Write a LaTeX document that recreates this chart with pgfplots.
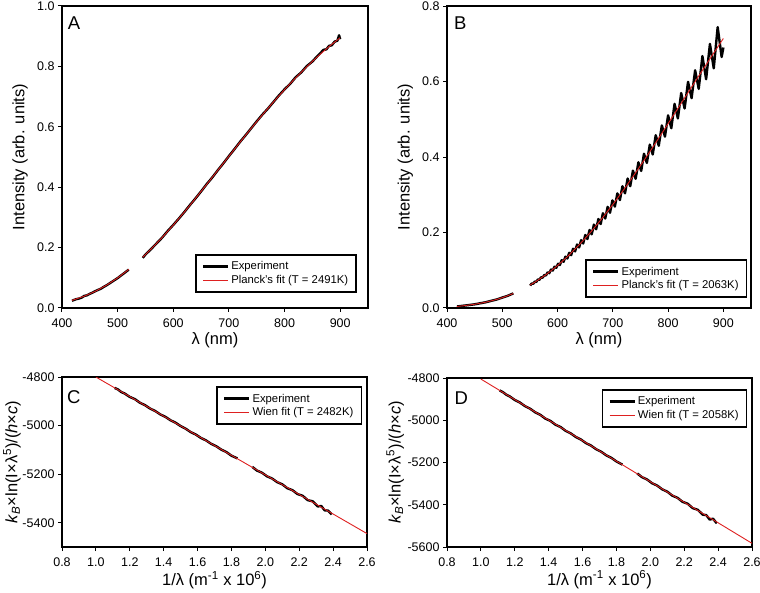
\documentclass[border=0pt]{standalone}
\usepackage{fontspec}
\setmainfont{Liberation Sans}
\usepackage{pgfplots}
\pgfplotsset{compat=1.18}
\definecolor{fitred}{RGB}{222,32,32}
\newcommand{\tickfont}{\fontsize{12.5}{14}\selectfont}
\newcommand{\labfont}{\fontsize{16.5}{19}\selectfont}
\newcommand{\legfont}{\fontsize{11.3}{13}\selectfont}
\newcommand{\letfont}{\fontsize{18.5}{21}\selectfont}
\pgfplotsset{
  panel/.style={
    scale only axis,
    anchor=south west,
    axis line style={line width=1.1pt},
    tick align=outside,
    xtick pos=bottom, ytick pos=left,
    major tick length=4pt,
    every tick/.style={black, line width=1pt},
    tick label style={font=\tickfont},
    xticklabel shift=3pt,
    /pgf/number format/assume math mode=true,
    label style={font=\labfont},
    unbounded coords=jump,
    legend style={font=\legfont, draw=black, line width=1.6pt, inner xsep=6pt, inner ysep=5pt, row sep=0pt, cells={anchor=west}},
    legend image code/.code={\draw[##1] (0pt,0pt) -- (25pt,0pt);},
  },
  expt/.style={black, line width=2.4pt, line join=round},
  fitl/.style={fitred, line width=0.9pt},
  onedec/.style={/pgf/number format/.cd, fixed, fixed zerofill, precision=1},
}
\begin{document}
\begin{tikzpicture}
\useasboundingbox (0,0) rectangle (760pt,592pt);
% ---------------- A ----------------
\begin{axis}[panel, at={(62pt,284pt)}, width=306pt, height=302pt,
  xmin=400, xmax=950, ymin=0, ymax=1.0,
  xtick={400,500,600,700,800,900}, ytick={0,0.2,0.4,0.6,0.8,1.0},
  yticklabel style={onedec},
  xlabel={λ (nm)}, ylabel={Intensity (arb. units)},
  xlabel style={at={(axis description cs:0.5,-0.106)}, anchor=center},
  ylabel style={at={(axis description cs:-0.137,0.5)}, anchor=center},
  legend style={at={(axis description cs:0.964,0.050)}, anchor=south east}]
\addplot[expt] coordinates {
(418,0.024) (425,0.029) (430,0.031) (435,0.034) (440,0.040) (445,0.042) (450,0.047) (455,0.051) (460,0.056) (465,0.060) (470,0.064) (475,0.070) (480,0.075) (485,0.081) (490,0.087) (495,0.093) (500,0.099) (505,0.106) (510,0.113) (515,0.120) (520,0.127)
(530,nan)
(545,0.166) (550,0.177) (555,0.186) (560,0.195) (570,0.214) (580,0.233) (590,0.255) (600,0.275) (610,0.296) (620,0.318) (630,0.341) (640,0.363) (650,0.386) (660,0.410) (670,0.432) (680,0.456) (690,0.479) (700,0.503) (710,0.526) (720,0.550) (730,0.572) (740,0.595) (750,0.618) (760,0.640) (770,0.660) (780,0.682) (790,0.704) (800,0.724) (810,0.742) (820,0.764) (830,0.780) (840,0.801) (850,0.816) (860,0.836) (865,0.845) (870,0.855) (875,0.856) (880,0.868) (885,0.870) (890,0.882) (895,0.885) (898,0.903) (900,0.890)
};
\addlegendentry{Experiment}
\addplot[fitl] coordinates {
(418,0.0253) (420,0.0264) (440,0.0391) (460,0.0553) (480,0.0755) (500,0.0997) (520,0.1278)
(530,nan)
(545,0.1682) (560,0.1950) (580,0.2334) (600,0.2746) (620,0.3180) (640,0.3630) (660,0.4092) (680,0.4558) (700,0.5026) (720,0.5491) (740,0.5948) (760,0.6392) (780,0.6821) (800,0.7232) (820,0.7623) (840,0.7991) (860,0.8337) (880,0.8657) (900,0.8950)
};
\addlegendentry{Planck's fit (T = 2491K)}
\node[font=\letfont] at (axis description cs:0.039,0.944) {A};
\end{axis}
% ---------------- B ----------------
\begin{axis}[panel, at={(447pt,284pt)}, width=304pt, height=302pt,
  xmin=400, xmax=950, ymin=0, ymax=0.8,
  xtick={400,500,600,700,800,900}, ytick={0,0.2,0.4,0.6,0.8},
  yticklabel style={onedec},
  xlabel={λ (nm)}, ylabel={Intensity (arb. units)},
  xlabel style={at={(axis description cs:0.5,-0.106)}, anchor=center},
  ylabel style={at={(axis description cs:-0.137,0.5)}, anchor=center},
  legend style={at={(axis description cs:0.988,0.033)}, anchor=south east}]
\addplot[expt] coordinates {
(418,0.0040) (425,0.0052) (430,0.0061) (440,0.0079) (450,0.0097) (460,0.0125) (470,0.0152) (480,0.0190) (490,0.0226) (500,0.0276) (510,0.0324) (520,0.0387)
(535,nan)
(550.5,0.0594) (553.2,0.0649) (555.9,0.0641) (558.7,0.0699) (561.5,0.0690) (564.3,0.0754) (567.2,0.0746) (570.1,0.0814) (573.1,0.0803) (576.0,0.0874) (579.1,0.0862) (582.1,0.0945) (585.1,0.0923) (588.2,0.1018) (591.4,0.0994) (594.6,0.1094) (597.7,0.1065) (601.0,0.1172) (604.2,0.1140) (607.5,0.1267) (610.9,0.1225) (614.3,0.1360) (617.7,0.1312) (621.1,0.1462) (624.6,0.1400) (628.1,0.1570) (631.7,0.1500) (635.3,0.1681) (639.0,0.1604) (642.7,0.1799) (646.4,0.1709) (650.2,0.1935) (654.0,0.1828) (657.9,0.2066) (661.8,0.1951) (665.8,0.2208) (669.8,0.2086) (673.9,0.2358) (678.0,0.2224) (682.1,0.2511) (686.3,0.2370) (690.6,0.2678) (694.9,0.2525) (699.3,0.2850) (703.7,0.2687) (708.2,0.3035) (712.8,0.2860) (717.4,0.3226) (722.0,0.3038) (726.8,0.3429) (731.5,0.3227) (736.4,0.3639) (741.3,0.3424) (746.3,0.3859) (751.3,0.3630) (756.4,0.4086) (761.6,0.3843) (766.9,0.4327) (772.2,0.4067) (777.6,0.4576) (783.1,0.4299) (788.7,0.4836) (794.3,0.4540) (800.0,0.5103) (805.8,0.4764) (811.7,0.5407) (817.7,0.5022) (823.7,0.5694) (829.9,0.5286) (836.1,0.5991) (842.5,0.5559) (848.9,0.6297) (855.4,0.5806) (862.1,0.6673) (868.8,0.6059) (875.7,0.6996) (882.6,0.6350) (889.7,0.7440) (896.9,0.6650) (900,0.6900)
};
\addlegendentry{Experiment}
\addplot[fitl] coordinates {
(418,0.0041) (430,0.0060) (450,0.0099) (470,0.0153) (490,0.0228) (500,0.0274) (510,0.0326) (520,0.0385)
(535,nan)
(550,0.0605) (560,0.0693) (580,0.0893) (600,0.1125) (620,0.1390) (640,0.1686) (660,0.2011) (680,0.2364) (700,0.2740) (720,0.3139) (740,0.3557) (760,0.3988) (780,0.4432) (800,0.4883) (820,0.5338) (840,0.5795) (860,0.6248) (880,0.6697) (900,0.7140)
};
\addlegendentry{Planck's fit (T = 2063K)}
\node[font=\letfont] at (axis description cs:0.044,0.944) {B};
\end{axis}
% ---------------- C ----------------
\begin{axis}[panel, at={(62pt,45pt)}, width=305pt, height=170pt,
  xmin=0.8, xmax=2.6, ymin=-5500, ymax=-4800,
  xtick={0.8,1.0,1.2,1.4,1.6,1.8,2.0,2.2,2.4,2.6}, ytick={-5400,-5200,-5000,-4800},
  xticklabel style={onedec},
  yticklabel style={/pgf/number format/1000 sep={}},
  xlabel={1/λ (m\textsuperscript{-1} x 10\textsuperscript{6})},
  ylabel={\textit{k}\textsubscript{\textit{B}}×ln(I×λ\textsuperscript{5})/(\textit{h}×\textit{c})},
  xlabel style={at={(axis description cs:0.5,-0.194)}, anchor=center},
  ylabel style={at={(axis description cs:-0.164,0.5)}, anchor=center},
  legend style={at={(axis description cs:0.984,0.947)}, anchor=north east}]
\addplot[expt] coordinates {
(1.111,-4845) (1.13,-4851) (1.15,-4862) (1.17,-4868) (1.20,-4882) (1.23,-4891) (1.26,-4906) (1.29,-4916) (1.32,-4930) (1.35,-4940) (1.38,-4954) (1.41,-4964) (1.44,-4978) (1.47,-4988) (1.50,-5002) (1.53,-5013) (1.56,-5027) (1.59,-5037) (1.62,-5051) (1.65,-5061) (1.68,-5075) (1.71,-5085) (1.74,-5099) (1.77,-5109) (1.80,-5124) (1.835,-5135)
(1.88,nan)
(1.923,-5170) (1.95,-5185) (1.98,-5194) (2.01,-5209) (2.04,-5218) (2.07,-5233) (2.10,-5242) (2.13,-5258) (2.16,-5266) (2.19,-5282) (2.22,-5289) (2.25,-5307) (2.28,-5312) (2.31,-5333) (2.33,-5331) (2.35,-5349) (2.37,-5350) (2.392,-5366)
};
\addlegendentry{Experiment}
\addplot[fitl] coordinates {(1.0,-4800) (2.6,-5444.8)};
\addlegendentry{Wien fit (T = 2482K)}
\node[font=\letfont] at (axis description cs:0.039,0.882) {C};
\end{axis}
% ---------------- D ----------------
\begin{axis}[panel, at={(447pt,45pt)}, width=305pt, height=169pt,
  xmin=0.8, xmax=2.6, ymin=-5600, ymax=-4800,
  xtick={0.8,1.0,1.2,1.4,1.6,1.8,2.0,2.2,2.4,2.6}, ytick={-5600,-5400,-5200,-5000,-4800},
  xticklabel style={onedec},
  yticklabel style={/pgf/number format/1000 sep={}},
  xlabel={1/λ (m\textsuperscript{-1} x 10\textsuperscript{6})},
  ylabel={\textit{k}\textsubscript{\textit{B}}×ln(I×λ\textsuperscript{5})/(\textit{h}×\textit{c})},
  xlabel style={at={(axis description cs:0.5,-0.194)}, anchor=center},
  ylabel style={at={(axis description cs:-0.170,0.5)}, anchor=center},
  legend style={at={(axis description cs:0.985,0.935)}, anchor=north east}]
\addplot[expt] coordinates {
(1.111,-4859) (1.13,-4867) (1.15,-4879) (1.17,-4887) (1.20,-4904) (1.23,-4916) (1.26,-4933) (1.29,-4945) (1.32,-4962) (1.35,-4974) (1.38,-4992) (1.41,-5003) (1.44,-5021) (1.47,-5032) (1.50,-5050) (1.53,-5062) (1.56,-5079) (1.59,-5091) (1.62,-5108) (1.65,-5120) (1.68,-5137) (1.71,-5149) (1.74,-5166) (1.77,-5178) (1.80,-5195) (1.835,-5210)
(1.88,nan)
(1.923,-5252) (1.95,-5269) (1.98,-5280) (2.01,-5298) (2.04,-5309) (2.07,-5327) (2.10,-5338) (2.13,-5357) (2.16,-5367) (2.19,-5386) (2.22,-5395) (2.25,-5416) (2.28,-5424) (2.31,-5447) (2.33,-5449) (2.35,-5470) (2.37,-5466) (2.392,-5488)
};
\addlegendentry{Experiment}
\addplot[fitl] coordinates {(1.0,-4805) (2.6,-5582.6)};
\addlegendentry{Wien fit (T = 2058K)}
\node[font=\letfont] at (axis description cs:0.047,0.882) {D};
\end{axis}
\end{tikzpicture}
\end{document}
